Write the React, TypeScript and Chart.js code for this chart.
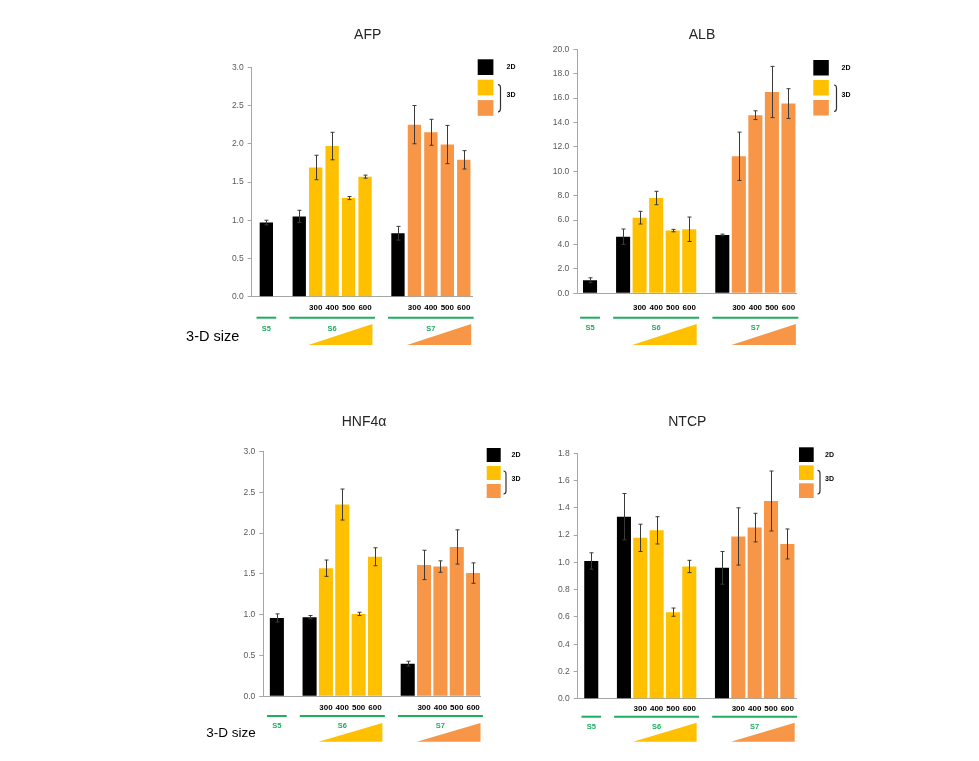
import React, { useEffect, useRef } from 'react';
import { Chart, registerables } from 'chart.js';

Chart.register(...registerables);

// ---------- data ----------
const groupNames = ['S5', 'S6', 'S7'];
const groupHas3D = [false, true, true];
const sizeLabels = ['300', '400', '500', '600'];
const legend2D = '2D';
const legend3D = '3D';
const sizeAxisText = '3-D size';

// bar order: S5 2D | S6 2D, 300, 400, 500, 600 | S7 2D, 300, 400, 500, 600
const afpValues = [0.97, 1.05, 1.69, 1.97, 1.29, 1.57, 0.83, 2.25, 2.15, 1.99, 1.79];
const afpErrors = [0.03, 0.08, 0.16, 0.18, 0.02, 0.02, 0.09, 0.25, 0.17, 0.25, 0.12];
const albValues = [1.07, 4.64, 6.2, 7.81, 5.14, 5.25, 4.78, 11.23, 14.6, 16.5, 15.55];
const albErrors = [0.2, 0.63, 0.52, 0.55, 0.1, 1.0, 0.07, 1.98, 0.36, 2.1, 1.22];
const hnfValues = [0.96, 0.97, 1.57, 2.35, 1.01, 1.71, 0.4, 1.61, 1.59, 1.83, 1.51];
const hnfErrors = [0.05, 0.02, 0.1, 0.19, 0.02, 0.11, 0.03, 0.18, 0.07, 0.21, 0.125];
const ntcpValues = [1.01, 1.335, 1.18, 1.235, 0.635, 0.97, 0.96, 1.19, 1.255, 1.45, 1.135];
const ntcpErrors = [0.06, 0.17, 0.1, 0.1, 0.03, 0.045, 0.12, 0.21, 0.105, 0.22, 0.11];

// ---------- styles ----------
const COLOR_2D = '#000000';
const groupColors = ['#000000', '#FFC000', '#F79646'];
const GREEN = '#1FAD60';
const AXIS = '#a6a6a6';
const FONT = '"Liberation Sans", Arial, Helvetica, sans-serif';

type Bar = { pos: number; group: number; label: string; is3D: boolean };

function buildBars(): Bar[] {
  const bars: Bar[] = [];
  let pos = 0;
  groupNames.forEach((_, gi) => {
    bars.push({ pos, group: gi, label: '', is3D: false });
    pos++;
    if (groupHas3D[gi]) {
      sizeLabels.forEach((s) => {
        bars.push({ pos, group: gi, label: s, is3D: true });
        pos++;
      });
    }
    pos++; // empty slot between groups
  });
  return bars;
}
const bars = buildBars();

type Cfg = {
  title: string;
  values: number[];
  errors: number[];
  yMax: number;
  yStep: number;
  box: [number, number, number, number];
  plot: [number, number, number, number];
  xMin: number;
  xMax: number;
  barPct: number;
  titleXY: [number, number];
  tickPad: number;
  greenY: number;
  sLabelY: number;
  triTop: number;
  triBottom: number;
  legend: { x: number; y: number; size: number; step: number; textX: number; bracketX: number };
  sizeText?: { x: number; y: number; size: number };
};

const panels: Cfg[] = [
  {
    title: 'AFP', values: afpValues, errors: afpErrors, yMax: 3, yStep: 0.5,
    box: [160, 15, 365, 350], plot: [251.7, 67.3, 472, 296.7],
    xMin: -0.89, xMax: 12.5, barPct: 0.81, titleXY: [367.7, 35], tickPad: 6,
    greenY: 317.7, sLabelY: 328.5, triTop: 324, triBottom: 345,
    legend: { x: 477.7, y: 59.3, size: 15.7, step: 20.4, textX: 506.5, bracketX: 500.5 },
    sizeText: { x: 212.7, y: 336.7, size: 14.5 },
  },
  {
    title: 'ALB', values: albValues, errors: albErrors, yMax: 20, yStep: 2,
    box: [525, 15, 360, 350], plot: [577.3, 49.3, 796.7, 293.3],
    xMin: -0.77, xMax: 12.5, barPct: 0.85, titleXY: [702, 35], tickPad: 9.5,
    greenY: 317.7, sLabelY: 328.3, triTop: 324, triBottom: 345,
    legend: { x: 813.3, y: 60, size: 15.5, step: 20, textX: 841.5, bracketX: 836.5 },
  },
  {
    title: 'HNF4α', values: hnfValues, errors: hnfErrors, yMax: 3, yStep: 0.5,
    box: [160, 395, 365, 360], plot: [263.3, 451.5, 480, 696.3],
    xMin: -0.83, xMax: 12.42, barPct: 0.86, titleXY: [364, 421.7], tickPad: 6.2,
    greenY: 716, sLabelY: 725.5, triTop: 723, triBottom: 741.7,
    legend: { x: 486.7, y: 448, size: 14, step: 18, textX: 511.5, bracketX: 506 },
    sizeText: { x: 231, y: 733.3, size: 13.5 },
  },
  {
    title: 'NTCP', values: ntcpValues, errors: ntcpErrors, yMax: 1.8, yStep: 0.2,
    box: [525, 395, 360, 360], plot: [577.7, 453.3, 796, 698.7],
    xMin: -0.83, xMax: 12.53, barPct: 0.86, titleXY: [687.3, 421.7], tickPad: 5.2,
    greenY: 716.7, sLabelY: 727, triTop: 722.7, triBottom: 741.7,
    legend: { x: 799, y: 447.3, size: 14.7, step: 18, textX: 825, bracketX: 820 },
  },
];

function Panel({ cfg }: { cfg: Cfg }) {
  const ref = useRef<HTMLCanvasElement>(null);
  const [bx, by, bw, bh] = cfg.box;

  useEffect(() => {
    const canvas = ref.current;
    if (!canvas) return;
    const [pl, pt, pr, pb] = cfg.plot;
    const yAxisW = 40;
    const xAxisH = 20;
    const padding = {
      left: pl - bx - yAxisW,
      top: pt - by,
      right: bx + bw - pr,
      bottom: by + bh - pb - xAxisH,
    };
    const labelAt = new Map<number, string>();
    bars.forEach((b) => { if (b.label) labelAt.set(b.pos, b.label); });
    const xTickPositions = bars.filter((b) => b.label).map((b) => b.pos);
    const yCount = Math.round(cfg.yMax / cfg.yStep);
    const yTicks = Array.from({ length: yCount + 1 }, (_, i) => ({ value: +(i * cfg.yStep).toFixed(6) }));

    const errorBars = {
      id: 'errorBars',
      afterDatasetsDraw(chart: any) {
        const ctx = chart.ctx;
        const ys = chart.scales.y;
        const meta = chart.getDatasetMeta(0);
        ctx.save();
        ctx.strokeStyle = '#3a3a3a';
        ctx.lineWidth = 1;
        meta.data.forEach((el: any, i: number) => {
          const v = cfg.values[i];
          const e = cfg.errors[i];
          const x = Math.round(el.x) + 0.5;
          const y1 = ys.getPixelForValue(v + e);
          const y2 = ys.getPixelForValue(Math.max(0, v - e));
          ctx.beginPath();
          ctx.moveTo(x, y1);
          ctx.lineTo(x, y2);
          ctx.moveTo(x - 2, y1);
          ctx.lineTo(x + 2, y1);
          ctx.moveTo(x - 2, y2);
          ctx.lineTo(x + 2, y2);
          ctx.stroke();
        });
        ctx.restore();
      },
    };

    const decor = {
      id: 'decor',
      afterDraw(chart: any) {
        const ctx = chart.ctx;
        const xs = chart.scales.x;
        const P = (x: number) => x - bx;
        const Q = (y: number) => y - by;
        ctx.save();
        // title
        ctx.fillStyle = '#262626';
        ctx.font = `14px ${FONT}`;
        ctx.textAlign = 'center';
        ctx.textBaseline = 'middle';
        ctx.fillText(cfg.title, P(cfg.titleXY[0]), Q(cfg.titleXY[1]));

        // group lines, labels, triangles
        groupNames.forEach((g, gi) => {
          const gBars = bars.filter((b) => b.group === gi);
          const first = gBars[0].pos;
          const last = gBars[gBars.length - 1].pos;
          const x1 = xs.getPixelForValue(first - 0.6);
          const x2 = xs.getPixelForValue(last + 0.6);
          ctx.strokeStyle = GREEN;
          ctx.lineWidth = 2;
          ctx.beginPath();
          ctx.moveTo(x1, Q(cfg.greenY));
          ctx.lineTo(x2, Q(cfg.greenY));
          ctx.stroke();
          ctx.fillStyle = GREEN;
          ctx.font = `bold 7.5px ${FONT}`;
          ctx.textAlign = 'center';
          ctx.textBaseline = 'middle';
          ctx.fillText(g, xs.getPixelForValue((first + last) / 2), Q(cfg.sLabelY));
          const sized = gBars.filter((b) => b.is3D);
          if (sized.length) {
            const t1 = xs.getPixelForValue(sized[0].pos - 0.45);
            const t2 = xs.getPixelForValue(sized[sized.length - 1].pos + 0.45);
            ctx.fillStyle = groupColors[gi];
            ctx.beginPath();
            ctx.moveTo(t1, Q(cfg.triBottom));
            ctx.lineTo(t2, Q(cfg.triBottom));
            ctx.lineTo(t2, Q(cfg.triTop));
            ctx.closePath();
            ctx.fill();
          }
        });

        // legend
        const L = cfg.legend;
        const sq = [COLOR_2D, groupColors[1], groupColors[2]];
        sq.forEach((c, i) => {
          ctx.fillStyle = c;
          ctx.fillRect(P(L.x), Q(L.y + i * L.step), L.size, L.size);
        });
        ctx.fillStyle = '#000';
        ctx.font = `bold 7px ${FONT}`;
        ctx.textAlign = 'left';
        ctx.textBaseline = 'middle';
        ctx.fillText(legend2D, P(L.textX), Q(L.y + L.size / 2));
        const yTop = L.y + L.step;
        const yBot = L.y + 2 * L.step + L.size;
        ctx.fillText(legend3D, P(L.textX), Q((yTop + yBot) / 2 - 2.5));
        const b1 = Q(yTop + 5);
        const b2 = Q(yBot - 4);
        const bxp = P(L.bracketX);
        ctx.strokeStyle = '#333';
        ctx.lineWidth = 1.2;
        ctx.beginPath();
        ctx.moveTo(bxp - 2.5, b1);
        ctx.quadraticCurveTo(bxp, b1, bxp, b1 + 3);
        ctx.lineTo(bxp, b2 - 3);
        ctx.quadraticCurveTo(bxp, b2, bxp - 2.5, b2);
        ctx.stroke();

        // 3-D size
        if (cfg.sizeText) {
          ctx.fillStyle = '#000';
          ctx.font = `${cfg.sizeText.size}px ${FONT}`;
          ctx.textAlign = 'center';
          ctx.textBaseline = 'middle';
          ctx.fillText(sizeAxisText, P(cfg.sizeText.x), Q(cfg.sizeText.y));
        }
        ctx.restore();
      },
    };

    const chart = new Chart(canvas, {
      type: 'bar',
      data: {
        datasets: [
          {
            data: bars.map((b, i) => ({ x: b.pos, y: cfg.values[i] })),
            backgroundColor: bars.map((b) => (b.is3D ? groupColors[b.group] : COLOR_2D)),
            borderWidth: 0,
            barPercentage: cfg.barPct,
            categoryPercentage: 1,
          } as any,
        ],
      },
      options: {
        responsive: false,
        maintainAspectRatio: false,
        animation: false,
        layout: { padding },
        plugins: {
          legend: { display: false },
          title: { display: false },
          tooltip: { enabled: false },
        },
        scales: {
          x: {
            type: 'linear',
            min: cfg.xMin,
            max: cfg.xMax,
            offset: false,
            grid: { display: false, drawTicks: false },
            border: { display: true, color: AXIS, width: 1 },
            afterBuildTicks: (s: any) => {
              s.ticks = xTickPositions.map((v) => ({ value: v }));
            },
            afterFit: (s: any) => {
              s.height = xAxisH;
            },
            ticks: {
              autoSkip: false,
              maxRotation: 0,
              minRotation: 0,
              padding: cfg.tickPad,
              color: '#000',
              font: { family: FONT, size: 8, weight: 'bold' },
              callback: (v: any) => labelAt.get(Number(v)) ?? '',
            },
          },
          y: {
            min: 0,
            max: cfg.yMax,
            afterBuildTicks: (s: any) => {
              s.ticks = yTicks.map((t) => ({ ...t }));
            },
            afterFit: (s: any) => {
              s.width = yAxisW;
            },
            grid: { display: true, drawOnChartArea: false, drawTicks: true, tickLength: 4, color: AXIS },
            border: { display: true, color: AXIS, width: 1 },
            ticks: {
              padding: 4,
              color: '#595959',
              font: { family: FONT, size: 8.5 },
              callback: (v: any) => Number(v).toFixed(1),
            },
          },
        } as any,
      },
      plugins: [errorBars, decor],
    });
    return () => chart.destroy();
  }, [cfg]);

  return (
    <canvas
      ref={ref}
      width={bw}
      height={bh}
      style={{ position: 'absolute', left: bx, top: by, width: bw, height: bh }}
    />
  );
}

export default function App() {
  return (
    <div style={{ position: 'absolute', left: 0, top: 0, width: 979, height: 761, background: '#fff', overflow: 'hidden' }}>
      {panels.map((p) => (
        <Panel key={p.title} cfg={p} />
      ))}
    </div>
  );
}
